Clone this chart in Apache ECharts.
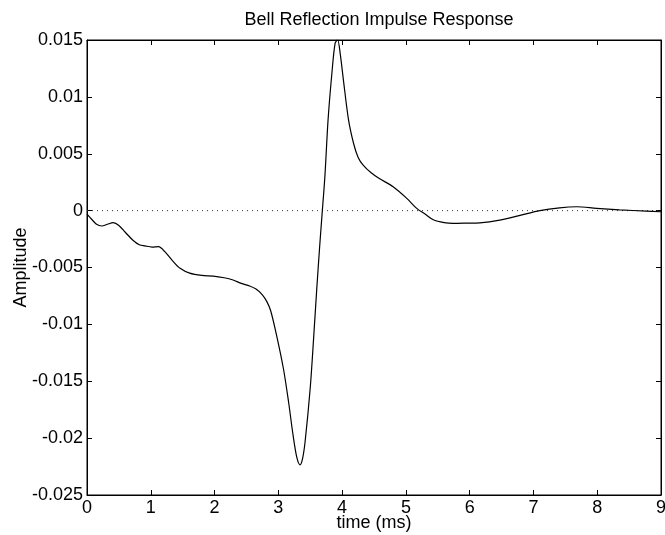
<!DOCTYPE html>
<html>
<head>
<meta charset="utf-8">
<script src="https://cdn.jsdelivr.net/npm/echarts@6/dist/echarts.min.js"></script>
<style>
html,body{margin:0;padding:0;background:#fff;}
#chart{width:665px;height:535px;}
</style>
</head>
<body>
<div id="chart"></div>
<script>
// time (ms)
const timeMs = [0, 0.08, 0.15, 0.23, 0.32, 0.41, 0.5, 0.6, 0.72, 0.82, 0.91, 1.02, 1.12, 1.22, 1.34, 1.46, 1.61, 1.8, 1.98, 2.15, 2.29, 2.42, 2.55, 2.65, 2.75, 2.82, 2.88, 2.97, 3.08, 3.16, 3.23, 3.29, 3.34, 3.38, 3.42, 3.50, 3.55, 3.60, 3.65, 3.69, 3.73, 3.78, 3.84, 3.89, 3.93, 3.97, 4.02, 4.10, 4.18, 4.25, 4.33, 4.46, 4.59, 4.80, 5.01, 5.17, 5.30, 5.43, 5.60, 5.74, 5.95, 6.16, 6.47, 6.79, 7.10, 7.41, 7.68, 7.99, 8.35, 8.77, 9.0];
// amplitude
const amplitude = [-0.0003, -0.0008, -0.0012, -0.00135, -0.0012, -0.00106, -0.0013, -0.0019, -0.0026, -0.003, -0.0031, -0.0032, -0.00317, -0.0036, -0.0044, -0.00507, -0.0055, -0.0057, -0.00575, -0.0059, -0.0061, -0.0064, -0.00663, -0.0069, -0.0074, -0.0080, -0.0088, -0.0109, -0.0139, -0.0168, -0.0197, -0.0217, -0.02235, -0.0218, -0.0203, -0.0156, -0.0115, -0.0071, -0.003, 0.0, 0.003, 0.008, 0.0121, 0.0147, 0.0150, 0.0138, 0.0115, 0.0080, 0.0059, 0.0047, 0.0040, 0.0033, 0.0028, 0.0021, 0.0011, 0.0002, -0.0003, -0.0008, -0.00105, -0.00112, -0.0011, -0.00107, -0.00083, -0.00042, 0.0, 0.00025, 0.00034, 0.0002, 0.00007, -0.00004, -0.0001];
const xTicks = [0, 1, 2, 3, 4, 5, 6, 7, 8, 9];
const yTicks = [-0.025, -0.02, -0.015, -0.01, -0.005, 0, 0.005, 0.01, 0.015];
const zeroLine = [[0, 0], [9, 0]];

const FONT = 'Liberation Sans, Arial, Helvetica, sans-serif';
const data = timeMs.map((t, i) => [t, amplitude[i]]);
const fmtY = v => String(Math.round(v * 1000) / 1000);

const chart = echarts.init(document.getElementById('chart'), null, {renderer: 'canvas'});
const axisCommon = () => ({
  axisLine: {show: true, onZero: false, lineStyle: {color: '#000', width: 1}},
  axisTick: {show: true, inside: true, length: 5, lineStyle: {color: '#000'}},
  splitLine: {show: false}
});
chart.setOption({
  animation: false,
  backgroundColor: '#fff',
  title: {
    text: 'Bell Reflection Impulse Response',
    left: 374, top: 6, textAlign: 'center',
    textStyle: {fontFamily: FONT, fontSize: 18, fontWeight: 'normal', color: '#000'}
  },
  grid: {
    left: 87, right: 4, top: 40, bottom: 40, containLabel: false,
    outerBoundsMode: 'none',
    show: true, borderColor: '#000', borderWidth: 1, backgroundColor: 'transparent'
  },
  xAxis: [
    Object.assign({
      type: 'value', min: xTicks[0], max: xTicks[xTicks.length - 1], interval: 1,
      position: 'bottom',
      name: 'time (ms)', nameLocation: 'middle', nameGap: 19, nameMoveOverlap: false,
      nameTextStyle: {fontFamily: FONT, fontSize: 18, color: '#000'},
      axisLabel: {fontFamily: FONT, fontSize: 18, color: '#000', margin: 4}
    }, axisCommon()),
    Object.assign({
      type: 'value', min: xTicks[0], max: xTicks[xTicks.length - 1], interval: 1,
      position: 'top', axisLabel: {show: false}
    }, axisCommon())
  ],
  yAxis: [
    Object.assign({
      type: 'value', min: yTicks[0], max: yTicks[yTicks.length - 1], interval: 0.005,
      position: 'left',
      name: 'Amplitude', nameLocation: 'middle', nameGap: 57, nameRotate: 90, nameMoveOverlap: false,
      nameTextStyle: {fontFamily: FONT, fontSize: 18, color: '#000'},
      axisLabel: {fontFamily: FONT, fontSize: 18, color: '#000', margin: 4, formatter: fmtY}
    }, axisCommon()),
    Object.assign({
      type: 'value', min: yTicks[0], max: yTicks[yTicks.length - 1], interval: 0.005,
      position: 'right', axisLabel: {show: false}
    }, axisCommon())
  ],
  series: [
    {
      type: 'line', data: zeroLine, symbol: 'none', silent: true,
      lineStyle: {color: '#333', width: 1, type: [1, 4]}
    },
    {
      type: 'line', data: data, symbol: 'none', smooth: 0.3, clip: true,
      lineStyle: {color: '#000', width: 1.2}
    }
  ]
});
</script>
</body>
</html>
